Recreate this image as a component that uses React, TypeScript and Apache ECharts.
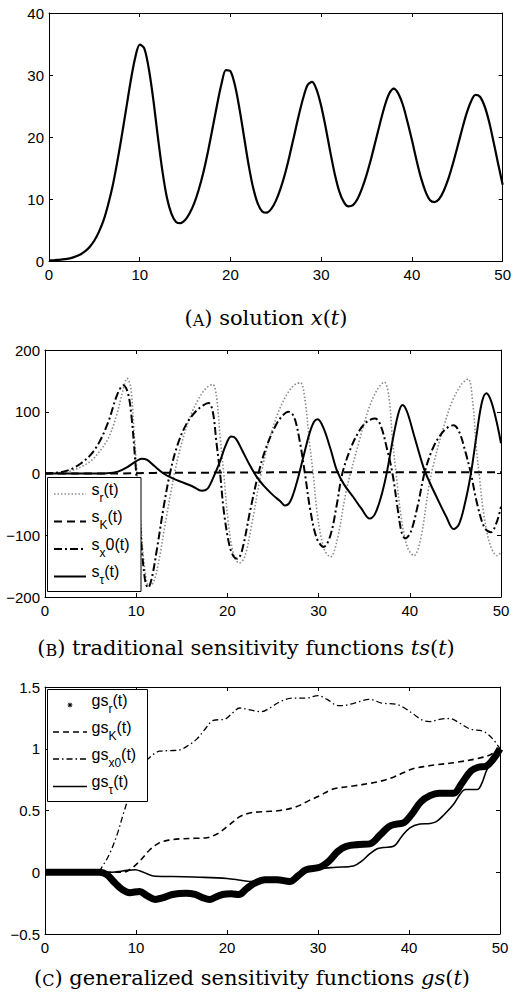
import React, { useEffect, useRef } from "react";
import * as echarts from "echarts";

// ---------- data (t, value) ----------
const timeTicks = [0, 10, 20, 30, 40, 50];

const solutionX: [number, number][] = [
  [0, 0.1], [0.5, 0.12], [1, 0.18], [1.5, 0.25], [2, 0.35], [2.5, 0.5], [3, 0.75], [3.5, 1.1],
  [4, 1.6], [4.5, 2.3], [5, 3.3], [5.5, 4.7], [6, 6.5], [6.5, 9], [7, 12], [7.5, 15.8],
  [8, 20], [8.5, 24.5], [9, 29], [9.5, 32.8], [10, 34.9], [10.5, 34.3], [11, 31], [11.5, 26],
  [12, 20], [12.5, 14.5], [13, 10.2], [13.5, 7.6], [14, 6.3], [14.5, 6.1], [15, 6.6],
  [15.5, 7.7], [16, 9.3], [16.5, 11.5], [17, 14.2], [17.5, 17.5], [18, 21.2], [18.5, 25],
  [19, 28.5], [19.5, 30.8], [20, 30.6], [20.5, 28.3], [21, 24.5], [21.5, 20], [22, 15.5],
  [22.5, 11.8], [23, 9.3], [23.5, 8], [24, 7.8], [24.5, 8.4], [25, 9.7], [25.5, 11.6],
  [26, 14], [26.5, 16.9], [27, 20.1], [27.5, 23.3], [28, 26.2], [28.5, 28.4], [29, 28.9],
  [29.5, 27.6], [30, 25], [30.5, 21.5], [31, 17.6], [31.5, 14], [32, 11.2], [32.5, 9.5],
  [33, 8.8], [33.5, 9], [34, 10], [34.5, 11.7], [35, 13.9], [35.5, 16.5], [36, 19.4],
  [36.5, 22.3], [37, 25], [37.5, 27], [38, 27.8], [38.5, 27], [39, 25.2], [39.5, 22.5],
  [40, 19.5], [40.5, 16.3], [41, 13.4], [41.5, 11.2], [42, 9.8], [42.5, 9.5], [43, 10],
  [43.5, 11.3], [44, 13.2], [44.5, 15.6], [45, 18.3], [45.5, 21.1], [46, 23.7], [46.5, 25.7],
  [47, 26.8], [47.5, 26.5], [48, 25], [48.5, 22.5], [49, 19.2], [49.5, 15.7], [50, 12.3],
];

const sensR: [number, number][] = [
  [0, 0], [1, 0.5], [2, 2], [3, 5], [4, 11], [5, 20], [6, 36], [7, 59], [7.9, 97], [8.5, 132],
  [9, 154], [9.4, 140], [9.8, 60], [10.1, 0], [10.5, -80], [10.9, -150], [11.4, -182],
  [11.9, -176], [12.5, -140], [13.2, -80], [14.2, 0], [15, 50], [16, 95], [17, 125],
  [17.8, 140], [18.4, 144], [18.8, 125], [19.2, 60], [19.6, 0], [20.1, -80], [20.7, -132],
  [21.3, -145], [21.9, -135], [22.7, -80], [23.7, 0], [24.6, 55], [25.6, 100], [26.6, 130],
  [27.4, 144], [28, 147], [28.5, 120], [29, 50], [29.4, 0], [29.9, -70], [30.6, -122],
  [31.3, -135], [32, -110], [33, -30], [33.5, 0], [34.5, 55], [35.5, 105], [36.4, 135],
  [37.2, 148], [37.7, 125], [38.1, 55], [38.5, 0], [39, -65], [39.7, -118], [40.45, -133],
  [41.2, -105], [42.1, -20], [42.6, 15], [43.6, 70], [44.6, 115], [45.6, 143], [46.4, 153],
  [46.9, 115], [47.3, 40], [47.6, 0], [48.1, -65], [48.8, -115], [49.6, -133], [50, -128],
];

const sensK: [number, number][] = [
  [0, 0], [8, 0], [12, 1], [20, 1.5], [30, 2], [40, 2], [50, 2],
];

const sensX0: [number, number][] = [
  [0, 0], [1, 1], [2, 3], [3, 8], [4, 17], [5, 30], [6, 52], [7, 86], [7.9, 127], [8.6, 143],
  [9.1, 130], [9.5, 90], [9.9, 20], [10.2, -40], [10.6, -120], [11, -175], [11.3, -185],
  [11.7, -170], [12.3, -120], [13, -55], [13.7, 0], [14.5, 45], [15.5, 80], [16.5, 100],
  [17.3, 110], [17.95, 114], [18.4, 100], [18.8, 50], [19.2, 0], [19.6, -60], [20.2, -115],
  [20.7, -135], [21.1, -138], [21.6, -125], [22.5, -60], [23.4, 0], [24.2, 40], [25.2, 75],
  [26, 93], [26.7, 100], [27.3, 92], [27.9, 55], [28.5, 0], [29.1, -60], [29.8, -105],
  [30.55, -119], [31.3, -100], [32, -50], [32.6, 0], [33.5, 40], [34.5, 70], [35.4, 85],
  [36.2, 89], [36.8, 78], [37.5, 40], [38.1, 0], [38.7, -60], [39.1, -95], [39.5, -105],
  [40.1, -95], [40.9, -50], [41.6, 0], [42.5, 40], [43.5, 65], [44.3, 76], [44.8, 78],
  [45.4, 68], [46.1, 35], [46.7, 0], [47.4, -50], [48.2, -88], [48.9, -95], [49.5, -80],
  [50, -54],
];

const sensTau: [number, number][] = [
  [0, 0], [5, 0], [6.8, 0.5], [8, 3], [9, 10], [10, 20], [10.6, 24], [11.2, 22], [12, 12],
  [13, 0], [14, -8], [15.2, -15], [16.2, -21], [17.2, -28], [17.8, -25], [18.5, -5],
  [19.2, 20], [19.8, 45], [20.4, 60], [20.9, 57], [21.6, 38], [22.4, 15], [23.2, -5],
  [24, -20], [25, -35], [25.8, -45], [26.3, -52], [26.9, -45], [27.6, -15], [28.3, 25],
  [29, 65], [29.5, 84], [29.9, 88], [30.5, 75], [31.3, 40], [32, 5], [32.8, -18],
  [33.8, -38], [34.7, -57], [35.6, -73], [36.2, -65], [36.9, -35], [37.5, 3], [38.2, 60],
  [38.8, 100], [39.2, 111], [39.7, 100], [40.5, 60], [41.5, 10], [42.2, -15], [43, -40],
  [44, -70], [44.8, -90], [45.4, -82], [46.1, -45], [46.7, 0], [47.3, 60], [47.9, 115],
  [48.4, 130], [48.9, 118], [49.5, 85], [50, 49],
];

const genR: [number, number][] = [
  [0, 0], [5, 0], [6, 0], [6.8, -0.02], [7.6, -0.08], [8.5, -0.14], [9.3, -0.165],
  [10.4, -0.155], [11.2, -0.19], [12.1, -0.22], [13, -0.205], [14, -0.18], [15.5, -0.17],
  [16.5, -0.18], [17.3, -0.205], [18.1, -0.22], [18.8, -0.2], [19.5, -0.18], [20.5, -0.175],
  [21.3, -0.18], [22.2, -0.13], [23, -0.09], [24.2, -0.06], [25.5, -0.06], [26.9, -0.075],
  [27.8, -0.03], [28.7, 0.02], [30.2, 0.04], [31.2, 0.09], [32.2, 0.17], [33.1, 0.21],
  [34.5, 0.225], [35.7, 0.23], [36.8, 0.3], [37.8, 0.37], [38.6, 0.39], [39.4, 0.4],
  [40.3, 0.47], [41.3, 0.57], [42.3, 0.62], [43.3, 0.64], [44.9, 0.64], [45.8, 0.72],
  [46.8, 0.82], [47.6, 0.85], [48.5, 0.86], [49.3, 0.92], [50, 1.0],
];

const genK: [number, number][] = [
  [0, 0], [8.5, 0], [9.3, 0.02], [10.4, 0.09], [11.5, 0.18], [12.6, 0.24], [13.6, 0.26],
  [14.8, 0.27], [16.5, 0.275], [17.8, 0.28], [18.9, 0.31], [20.2, 0.38], [21.4, 0.45],
  [22.5, 0.48], [23.8, 0.49], [25.8, 0.5], [27.6, 0.53], [29, 0.58], [30.2, 0.62],
  [31.2, 0.66], [32, 0.68], [34, 0.7], [35.7, 0.72], [37, 0.74], [38.3, 0.77], [39.5, 0.81],
  [40.5, 0.84], [42, 0.86], [43, 0.87], [45.2, 0.89], [47.5, 0.92], [48.9, 0.95], [50, 1.0],
];

const genX0: [number, number][] = [
  [0, 0], [5.7, 0], [6.4, 0.06], [7.1, 0.15], [7.9, 0.3], [8.6, 0.47], [9.7, 0.72],
  [10.6, 0.85], [11.5, 0.93], [12.6, 0.98], [13.8, 0.985], [14.8, 0.99], [15.8, 1.03],
  [16.7, 1.08], [17.6, 1.16], [18.5, 1.23], [19.8, 1.24], [20.6, 1.29], [21.4, 1.33],
  [22.5, 1.315], [23.8, 1.3], [24.7, 1.33], [25.8, 1.38], [27.2, 1.41], [28.7, 1.41],
  [30, 1.43], [31, 1.4], [32.2, 1.35], [32.75, 1.35], [34, 1.37], [35.7, 1.4], [37, 1.37],
  [38.6, 1.36], [39.5, 1.33], [40.5, 1.28], [41.5, 1.23], [42.3, 1.22], [43.5, 1.24],
  [44.5, 1.245], [45.5, 1.21], [46.7, 1.16], [48.2, 1.14], [49.2, 1.08], [50, 1.0],
];

const genTau: [number, number][] = [
  [0, 0], [7, 0], [8, 0.005], [9, 0.015], [9.9, 0.02], [10.8, 0.0], [11.9, -0.03],
  [14, -0.035], [17, -0.04], [20, -0.05], [21.5, -0.065], [22.5, -0.075], [24.7, -0.07],
  [26.9, -0.07], [28, -0.02], [29, 0.01], [30.2, 0.03], [32, 0.04], [33.9, 0.05],
  [34.8, 0.09], [35.7, 0.15], [36.5, 0.19], [37.2, 0.2], [38.3, 0.21], [39.2, 0.29],
  [40.1, 0.36], [41.2, 0.39], [42.3, 0.395], [43, 0.41], [43.9, 0.47], [44.9, 0.55],
  [45.6, 0.63], [46.2, 0.67], [47.5, 0.67], [48, 0.72], [48.5, 0.82], [49.2, 0.92], [50, 1.0],
];

const captionA = ["A", " solution ", "x"];
const captionB = ["B", " traditional sensitivity functions ", "ts"];
const captionC = ["C", " generalized sensitivity functions ", "gs"];

const legendB = [
  { main: "s", sub: "r", tail: "(t)" },
  { main: "s", sub: "K", tail: "(t)" },
  { main: "s", sub: "x", tail: "0(t)" },
  { main: "s", sub: "τ", tail: "(t)" },
];
const legendC = [
  { main: "gs", sub: "r", tail: "(t)" },
  { main: "gs", sub: "K", tail: "(t)" },
  { main: "gs", sub: "x0", tail: "(t)" },
  { main: "gs", sub: "τ", tail: "(t)" },
];

// ---------- styling ----------
const SANS = "'Liberation Sans', Arial, Helvetica, sans-serif";
const SERIF = "'DejaVu Serif', 'Liberation Serif', serif";
const fmt = (v: number) => String(v).replace("-", "\u2212");

const styleB = [
  { color: "#8a8a8a", width: 1.6, type: [1.5, 2] as any },
  { color: "#000", width: 2, type: [8, 5] as any },
  { color: "#000", width: 2, type: [8, 3, 2, 3] as any },
  { color: "#000", width: 2, type: "solid" as any },
];
const styleC = [
  { color: "#000", width: 7, type: "solid" as any },
  { color: "#000", width: 1.6, type: [6, 4] as any },
  { color: "#000", width: 1.3, type: [6, 3, 1.5, 3] as any },
  { color: "#000", width: 1.6, type: "solid" as any },
];

const grids = [
  { left: 49, top: 13, width: 455, height: 248, yMin: 0, yMax: 40, yInt: 10 },
  { left: 45, top: 350, width: 456, height: 247, yMin: -200, yMax: 200, yInt: 100 },
  { left: 45, top: 687, width: 455, height: 247, yMin: -0.5, yMax: 1.5, yInt: 0.5 },
];

function buildAxes() {
  const xAxis: any[] = [];
  const yAxis: any[] = [];
  grids.forEach((g, i) => {
    const line = { show: true, onZero: false, lineStyle: { color: "#000", width: 1 } };
    const tick = { show: true, inside: true, length: 4, lineStyle: { color: "#000", width: 1 } };
    const label = { color: "#000", fontFamily: SANS, fontSize: 15, formatter: fmt };
    xAxis.push({
      type: "value", gridIndex: i, min: timeTicks[0], max: timeTicks[timeTicks.length - 1],
      interval: timeTicks[1] - timeTicks[0], position: "bottom",
      axisLine: line, axisTick: tick, splitLine: { show: false },
      axisLabel: { ...label, margin: 6 },
    });
    xAxis.push({
      type: "value", gridIndex: i, min: timeTicks[0], max: timeTicks[timeTicks.length - 1],
      interval: timeTicks[1] - timeTicks[0], position: "top",
      axisLine: line, axisTick: tick, splitLine: { show: false }, axisLabel: { show: false },
    });
    yAxis.push({
      type: "value", gridIndex: i, min: g.yMin, max: g.yMax, interval: g.yInt, position: "left",
      axisLine: line, axisTick: tick, splitLine: { show: false },
      axisLabel: { ...label, margin: 5 },
    });
    yAxis.push({
      type: "value", gridIndex: i, min: g.yMin, max: g.yMax, interval: g.yInt, position: "right",
      axisLine: line, axisTick: tick, splitLine: { show: false }, axisLabel: { show: false },
    });
  });
  return { xAxis, yAxis };
}

function lineSeries(name: string, data: [number, number][], gi: number, st: any, z = 2, smooth = 0.35) {
  return {
    type: "line", name, data, xAxisIndex: gi * 2, yAxisIndex: gi * 2,
    showSymbol: false, symbol: "none", smooth, silent: true, z,
    lineStyle: { color: st.color, width: st.width, type: st.type, cap: "butt", join: "round" },
  };
}

function caption(parts: string[], x: number, y: number) {
  const [letter, middle, ital] = parts;
  return {
    type: "text", x, y, z: 20,
    style: {
      text: `{n|(}{sc|${letter}}{n|)${middle}}{i|${ital}}{n|(}{i|t}{n|)}`,
      align: "center", verticalAlign: "middle", fill: "#000",
      rich: {
        n: { fontFamily: SERIF, fontSize: 21, lineHeight: 26, verticalAlign: "bottom", fill: "#000" },
        sc: { fontFamily: SERIF, fontSize: 16, lineHeight: 26, verticalAlign: "bottom", fill: "#000" },
        i: { fontFamily: SERIF, fontSize: 21, fontStyle: "italic", lineHeight: 26, verticalAlign: "bottom", fill: "#000" },
      },
    },
  };
}

function starPoints(cx: number, cy: number) {
  const pts: number[][] = [];
  for (let k = 0; k < 16; k++) {
    const a = (k * Math.PI) / 8;
    const r = k % 2 === 0 ? 3.2 : 1.3;
    pts.push([cx + r * Math.cos(a), cy + r * Math.sin(a)]);
  }
  return pts;
}

function legendBox(
  box: { x: number; y: number; w: number; h: number },
  rows: number[], iconX1: number, iconX2: number, textX: number,
  items: { main: string; sub: string; tail: string }[], styles: any[], starFirst: boolean,
) {
  const els: any[] = [
    { type: "rect", z: 10, shape: { x: box.x, y: box.y, width: box.w, height: box.h },
      style: { fill: "#fff", stroke: "#000", lineWidth: 1 } },
  ];
  items.forEach((it, i) => {
    const ry = rows[i];
    if (i === 0 && starFirst) {
      els.push({ type: "polygon", z: 11, shape: { points: starPoints((iconX1 + iconX2) / 2, ry) }, style: { fill: "#000" } });
    } else {
      const st = styles[i];
      els.push({
        type: "line", z: 11, shape: { x1: iconX1, y1: ry, x2: iconX2, y2: ry },
        style: { stroke: st.color, lineWidth: Math.min(st.width, 2), lineDash: st.type === "solid" ? null : st.type },
      });
    }
    els.push({
      type: "text", z: 11, x: textX, y: ry - 13,
      style: {
        text: `{m|${it.main}}{s|${it.sub}}{m|${it.tail}}`,
        align: "left", verticalAlign: "top", fill: "#000",
        rich: {
          m: { fontFamily: SANS, fontSize: 16, lineHeight: 17, verticalAlign: "top", fill: "#000" },
          s: { fontFamily: SANS, fontSize: 12, lineHeight: 22.5, verticalAlign: "bottom", fill: "#000" },
        },
      },
    });
  });
  return els;
}

export default function App() {
  const ref = useRef<HTMLDivElement>(null);
  useEffect(() => {
    const chart = echarts.init(ref.current!, null, { renderer: "svg" });
    const { xAxis, yAxis } = buildAxes();
    const option: any = {
      animation: false,
      backgroundColor: "#fff",
      grid: grids.map((g) => ({ left: g.left, top: g.top, width: g.width, height: g.height, containLabel: false })),
      xAxis,
      yAxis,
      series: [
        lineSeries("x(t)", solutionX, 0, { color: "#000", width: 2.2, type: "solid" }, 2, 0.3),
        lineSeries("s_r(t)", sensR, 1, styleB[0], 2),
        lineSeries("s_K(t)", sensK, 1, styleB[1], 3),
        lineSeries("s_x0(t)", sensX0, 1, styleB[2], 3),
        lineSeries("s_tau(t)", sensTau, 1, styleB[3], 4),
        lineSeries("gs_r(t)", genR, 2, styleC[0], 2),
        lineSeries("gs_K(t)", genK, 2, styleC[1], 3),
        lineSeries("gs_x0(t)", genX0, 2, styleC[2], 3),
        lineSeries("gs_tau(t)", genTau, 2, styleC[3], 4),
      ],
      graphic: [
        caption(captionA, 266, 315),
        caption(captionB, 246, 645),
        caption(captionC, 252, 975),
        ...legendBox({ x: 47.5, y: 477.5, w: 93.5, h: 114 }, [494, 521.5, 549, 576.5], 54, 86, 91.5, legendB, styleB, false),
        ...legendBox({ x: 47.5, y: 689.5, w: 100, h: 112 }, [705, 732, 759, 786.5], 53, 87, 91.5, legendC, styleC, true),
      ],
    };
    chart.setOption(option);
    return () => chart.dispose();
  }, []);
  return (
    <div
      ref={ref}
      style={{ position: "absolute", left: 0, top: 0, width: 514, height: 999, background: "#fff" }}
    />
  );
}
